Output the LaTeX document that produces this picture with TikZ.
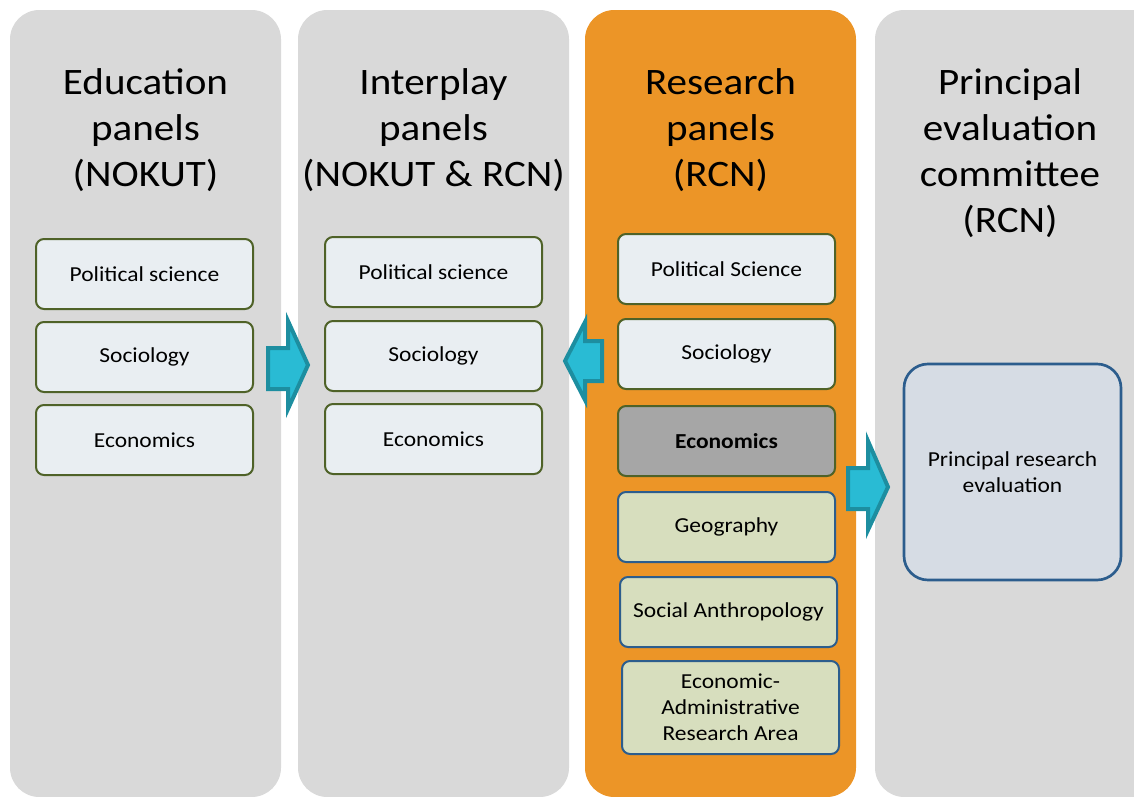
\documentclass[tikz,border=0pt]{standalone}
\usepackage{fontspec}
\setmainfont[FakeStretch=1.1]{Carlito}

\definecolor{colgray}{RGB}{217,217,217}
\definecolor{colorange}{RGB}{236,149,39}
\definecolor{panelfill}{RGB}{233,238,242}
\definecolor{panelgreen}{RGB}{79,98,40}
\definecolor{panelgray}{RGB}{166,166,166}
\definecolor{panelolive}{RGB}{215,222,190}
\definecolor{panelblue}{RGB}{44,93,141}
\definecolor{evalfill}{RGB}{214,220,228}
\definecolor{arrowfill}{RGB}{41,187,212}
\definecolor{arrowline}{RGB}{29,142,160}

\tikzset{
  column/.style={rounded corners=22pt},
  heading/.style={align=center,font=\fontsize{28}{34.5}\selectfont},
  panel/.style={draw=panelgreen,line width=1.5pt,fill=panelfill,rounded corners=6pt,
    minimum width=162.75pt,minimum height=52.5pt,align=center,
    font=\fontsize{16}{19.5}\selectfont},
  newpanel/.style={panel,draw=panelblue,fill=panelolive},
  blockarrow/.style={draw=arrowline,fill=arrowfill,line width=3pt,line join=miter},
}

\begin{document}
\begin{tikzpicture}[x=0.75pt,y=0.75pt,yscale=-1,xscale=1]
\useasboundingbox (0,0) rectangle (1134,796);
\clip (0,0) rectangle (1134,796);

% columns
\fill[column,colgray] (10,10) rectangle (281,797);
\fill[column,colgray] (298,10) rectangle (569,797);
\fill[column,colorange] (585,10) rectangle (856,797);
\fill[column,colgray] (875,10) rectangle (1170,797);

% headings
\node[heading] (edu) at (145.5,130) {Education\\panels\\(NOKUT)};
\node[heading] (inter) at (433.5,130) {Interplay\\panels\\(NOKUT \& RCN)};
\node[heading] (res) at (720.5,130) {Research\\panels\\(RCN)};
\node[heading] (prin) at (1010,153) {Principal\\evaluation\\committee\\(RCN)};

% education panels
\node[panel] (edupol) at (144.5,274) {Political science};
\node[panel] (edusoc) at (144.5,357) {Sociology};
\node[panel] (eduecon) at (144.5,440) {Economics};

% interplay panels
\node[panel] (intpol) at (433.5,272) {Political science};
\node[panel] (intsoc) at (433.5,356) {Sociology};
\node[panel] (intecon) at (433.5,439) {Economics};

% research panels
\node[panel] (respol) at (726.5,269) {Political Science};
\node[panel] (ressoc) at (726.5,354) {Sociology};
\node[panel,fill=panelgray,font=\fontsize{16}{19.5}\selectfont\bfseries] (resecon) at (726.5,441) {Economics};
\node[newpanel] (resgeo) at (726.5,527) {Geography};
\node[newpanel] (resant) at (728.5,612) {Social Anthropology};
\node[newpanel,minimum height=69.75pt] (resadm) at (730.5,707.5) {Economic-\\Administrative\\Research Area};

% principal evaluation
\node[panel,draw=panelblue,fill=evalfill,line width=2pt,rounded corners=18pt,
  minimum height=162pt] (eval) at (1012.5,472) {Principal research\\evaluation};

% block arrows
\draw[blockarrow] (268,348) -- (288,348) -- (288,321) -- (308,365) -- (288,409) -- (288,389) -- (268,389) -- cycle;
\draw[blockarrow] (602,341) -- (585,341) -- (585,322) -- (565,361) -- (585,400) -- (585,381) -- (602,381) -- cycle;
\draw[blockarrow] (848,468) -- (868,468) -- (868,441) -- (888,487) -- (868,530) -- (868,509) -- (848,509) -- cycle;

\end{tikzpicture}
\end{document}
